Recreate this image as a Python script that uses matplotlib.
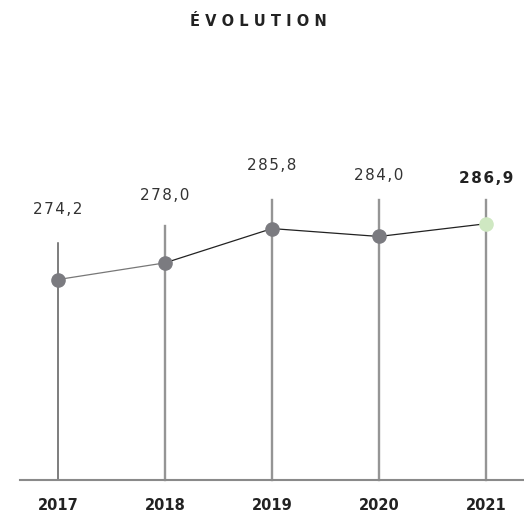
import matplotlib
matplotlib.use("Agg")
import matplotlib.pyplot as plt

years = [2017, 2018, 2019, 2020, 2021]
values = [274.2, 278.0, 285.8, 284.0, 286.9]
value_labels = ["274,2", "278,0", "285,8", "284,0", "286,9"]
year_labels = ["2017", "2018", "2019", "2020", "2021"]

# label distance above the point, in pixels
label_offsets_px = [70, 67, 63, 61, 45]

fig = plt.figure(figsize=(5.24, 5.15), dpi=100)
ax = fig.add_axes([20 / 524, 35 / 515, 504 / 524, 480 / 515])
ax.set_xlim(2016.645, 2021.355)
ax.set_ylim(228.6, 337.8)

for s in ["top", "right", "left"]:
    ax.spines[s].set_visible(False)
ax.spines["bottom"].set_color("#8a8a8a")
ax.spines["bottom"].set_linewidth(1.5)
ax.set_yticks([])
ax.set_xticks(years)
ax.set_xticklabels(year_labels, fontsize=10.5, fontweight="bold", color="#222222")
ax.tick_params(axis="x", length=0, pad=13)

# vertical stems, cut off at a common height
cap = 292.3
for i, (x, v) in enumerate(zip(years, values)):
    top = min(v + 8.4, cap)
    col = "#5a5a5a" if i == 0 else "#959595"
    lw = 1.1 if i == 0 else 1.7
    ax.plot([x, x], [228.6, top], color=col, lw=lw, zorder=1, clip_on=False)

ax.plot(years[:2], values[:2], color="#777777", lw=0.9, zorder=2)
ax.plot(years[1:], values[1:], color="#222222", lw=0.9, zorder=2)
ax.plot(years[:-1], values[:-1], "o", ms=9.5, color="#7b7b80", zorder=3)
ax.plot(years[-1:], values[-1:], "o", ms=9.5, color="#cfe8c2", zorder=3)

for i, (x, v, lab) in enumerate(zip(years, values, value_labels)):
    last = i == len(years) - 1
    spaced = "\u200a".join(lab)
    ax.annotate(spaced, (x, v), xytext=(0, label_offsets_px[i] * 0.72),
                textcoords="offset points", ha="center", va="center",
                fontsize=11, color="#222222" if last else "#333333",
                fontweight="bold" if last else "normal", family="DejaVu Sans")

fig.text(258.5 / 524, 1 - 21.5 / 515, "É V O L U T I O N", ha="center", va="center",
         fontsize=10.5, fontweight="bold", color="#222222")

fig.savefig("out.png", dpi=100)
